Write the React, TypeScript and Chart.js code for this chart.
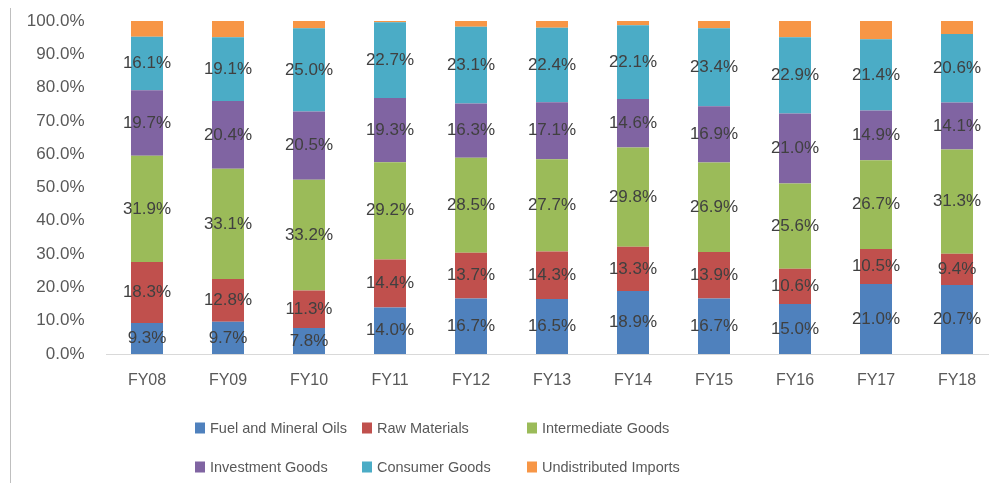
import React, { useEffect, useRef } from "react";
import { Chart, registerables } from "chart.js";

Chart.register(...registerables);

const categories = ["FY08", "FY09", "FY10", "FY11", "FY12", "FY13", "FY14", "FY15", "FY16", "FY17", "FY18"];
const fuel = [9.3, 9.7, 7.8, 14.0, 16.7, 16.5, 18.9, 16.7, 15.0, 21.0, 20.7];
const rawMaterials = [18.3, 12.8, 11.3, 14.4, 13.7, 14.3, 13.3, 13.9, 10.6, 10.5, 9.4];
const intermediate = [31.9, 33.1, 33.2, 29.2, 28.5, 27.7, 29.8, 26.9, 25.6, 26.7, 31.3];
const investment = [19.7, 20.4, 20.5, 19.3, 16.3, 17.1, 14.6, 16.9, 21.0, 14.9, 14.1];
const consumer = [16.1, 19.1, 25.0, 22.7, 23.1, 22.4, 22.1, 23.4, 22.9, 21.4, 20.6];
const undistributed = [4.7, 4.9, 2.2, 0.4, 1.7, 2.0, 1.3, 2.2, 4.9, 5.5, 3.9];
const seriesNames = [
  "Fuel and Mineral Oils",
  "Raw Materials",
  "Intermediate Goods",
  "Investment Goods",
  "Consumer Goods",
  "Undistributed Imports",
];
const seriesColors = ["#4F81BD", "#C0504D", "#9BBB59", "#8064A2", "#4BACC6", "#F79646"];
const yTicks = [0, 10, 20, 30, 40, 50, 60, 70, 80, 90, 100];

const FONT = "'Liberation Sans', Arial, sans-serif";

const labelPlugin = {
  id: "segmentLabels",
  afterDatasetsDraw(chart: any) {
    const ctx = chart.ctx;
    ctx.save();
    ctx.font = `17px ${FONT}`;
    ctx.fillStyle = "#404040";
    ctx.textAlign = "center";
    ctx.textBaseline = "middle";
    chart.data.datasets.forEach((ds: any, di: number) => {
      if (!ds.showLabels) return;
      const meta = chart.getDatasetMeta(di);
      meta.data.forEach((el: any, i: number) => {
        const v = ds.data[i];
        const y = (el.y + el.base) / 2;
        ctx.fillText(v.toFixed(1) + "%", el.x, y);
      });
    });
    ctx.restore();
  },
};

const framePlugin = {
  id: "frameLine",
  beforeDraw(chart: any) {
    const ctx = chart.ctx;
    ctx.save();
    ctx.strokeStyle = "#BFBFBF";
    ctx.lineWidth = 1;
    ctx.beginPath();
    ctx.moveTo(10.5, 8);
    ctx.lineTo(10.5, chart.height);
    ctx.stroke();
    ctx.restore();
  },
};

const legendPlugin = {
  id: "gridLegend",
  afterDraw(chart: any) {
    const ctx = chart.ctx;
    const colX = [195, 362, 527];
    const rowY = [428, 467];
    ctx.save();
    ctx.font = `14.5px ${FONT}`;
    ctx.textBaseline = "middle";
    ctx.textAlign = "left";
    chart.data.datasets.forEach((ds: any, i: number) => {
      const x = colX[i % 3];
      const y = rowY[Math.floor(i / 3)];
      ctx.fillStyle = ds.backgroundColor;
      ctx.fillRect(x, y - 5.5, 10, 11);
      ctx.fillStyle = "#595959";
      ctx.fillText(ds.label, x + 15, y + 0.5);
    });
    ctx.restore();
  },
};

export default function App() {
  const canvasRef = useRef<HTMLCanvasElement | null>(null);

  useEffect(() => {
    if (!canvasRef.current) return;
    const allSeries = [fuel, rawMaterials, intermediate, investment, consumer, undistributed];
    const chart = new Chart(canvasRef.current, {
      type: "bar",
      data: {
        labels: categories,
        datasets: allSeries.map((d, i) => ({
          label: seriesNames[i],
          data: d,
          backgroundColor: seriesColors[i],
          borderWidth: 0,
          barPercentage: 0.395,
          categoryPercentage: 1,
          showLabels: i < 5,
        })) as any,
      },
      options: {
        responsive: false,
        animation: false,
        devicePixelRatio: 1,
        layout: { padding: { top: 21, left: 0, right: 0.5, bottom: 0 } },
        plugins: {
          legend: { display: false },
          tooltip: { enabled: false },
        },
        scales: {
          x: {
            stacked: true,
            grid: { display: false, drawTicks: false },
            border: { display: true, color: "#D9D9D9", width: 1 },
            ticks: { color: "#595959", font: { family: FONT, size: 16 }, padding: 17 },
            afterFit: (scale: any) => {
              scale.height = 129;
              scale.paddingLeft = 0;
              scale.paddingRight = 0;
            },
          },
          y: {
            stacked: true,
            min: 0,
            max: 100,
            grid: { display: false, drawTicks: false },
            border: { display: false },
            afterBuildTicks: (scale: any) => {
              scale.ticks = yTicks.map((v) => ({ value: v }));
            },
            ticks: {
              color: "#595959",
              font: { family: FONT, size: 17 },
              padding: 22,
              callback: (v: any) => Number(v).toFixed(1) + "%",
            },
            afterFit: (scale: any) => {
              scale.width = 106.5;
              scale.paddingTop = 0;
              scale.paddingBottom = 0;
            },
          },
        },
      },
      plugins: [framePlugin, labelPlugin, legendPlugin],
    });
    return () => chart.destroy();
  }, []);

  return (
    <div
      style={{
        position: "absolute",
        left: 0,
        top: 0,
        width: 989,
        height: 483,
        overflow: "hidden",
        background: "#fff",
      }}
    >
      <canvas ref={canvasRef} width={998} height={483} style={{ display: "block" }} />
    </div>
  );
}
